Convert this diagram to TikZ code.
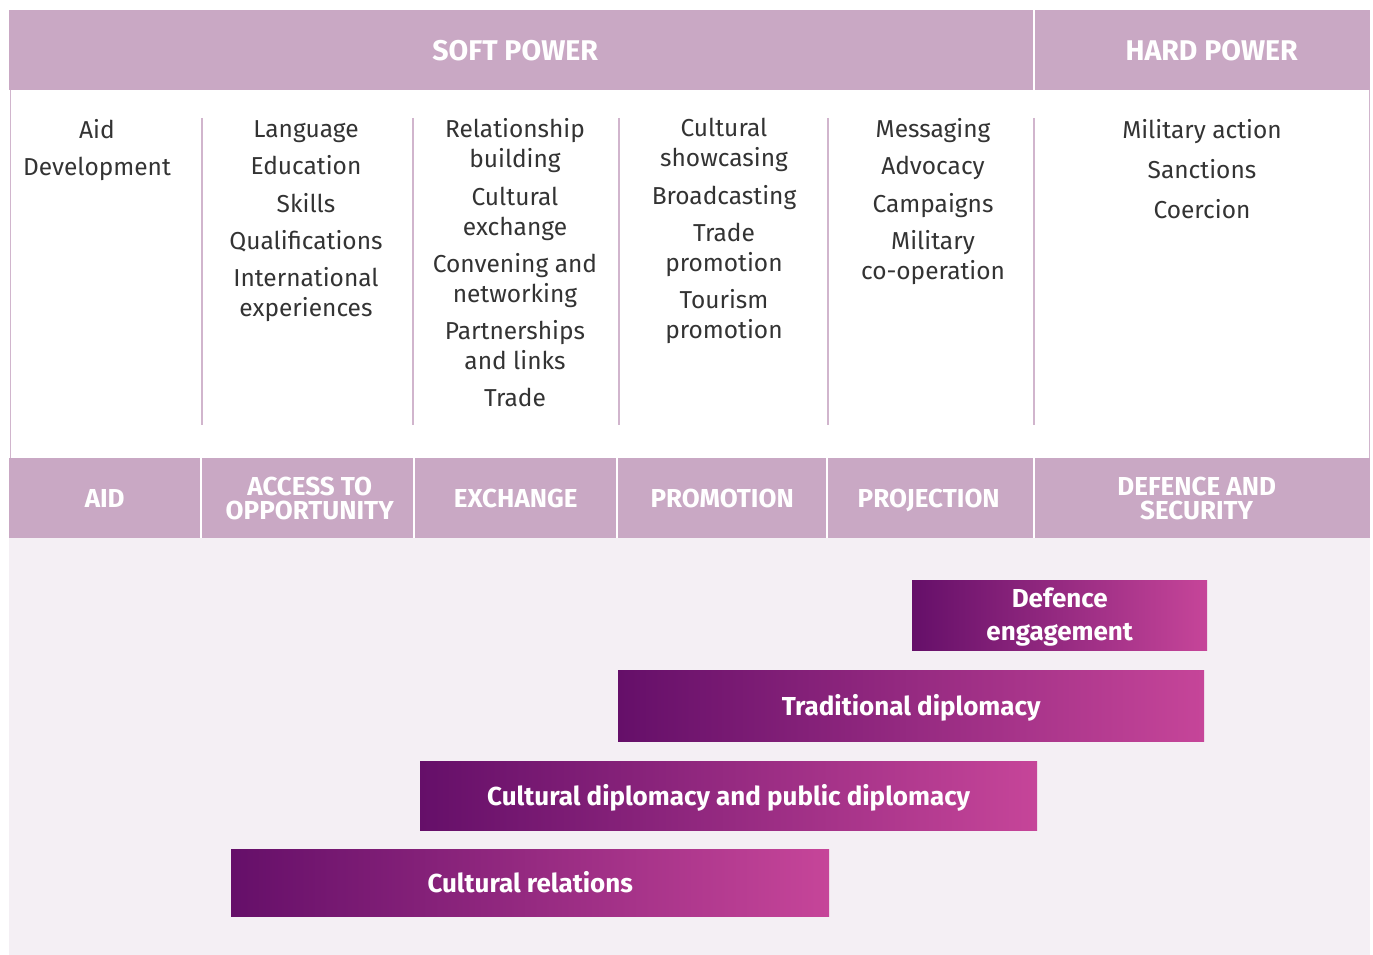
\documentclass[tikz,border=0pt]{standalone}
\usepackage{fontspec}
\setmainfont{Fira Sans}
\usetikzlibrary{positioning}
\definecolor{mauve}{HTML}{C9A8C4}
\definecolor{blush}{HTML}{F4EFF4}
\definecolor{plumL}{HTML}{650F69}
\definecolor{plumR}{HTML}{C64599}
\definecolor{ink}{HTML}{333333}
\tikzstyle{head} = [fill=mauve,text=white,font=\bfseries\fontsize{28.5}{28}\selectfont,inner sep=0pt,minimum height=80pt,anchor=north west]
\tikzstyle{cell} = [fill=mauve,text=white,font=\bfseries\fontsize{26}{24}\selectfont,align=center,inner sep=0pt,minimum height=80pt,anchor=north west]
\tikzstyle{item} = [text=ink,font=\fontsize{24.5}{30}\selectfont,align=center,inner sep=0pt,anchor=north]
\tikzstyle{bar} = [left color=plumL,right color=plumR,text=white,font=\bfseries\fontsize{26}{33}\selectfont,align=center,inner sep=0pt,anchor=north west,text depth=1.5pt]
\tikzstyle{sep} = [draw=mauve!85,line width=1.5pt]

\begin{document}
\begin{tikzpicture}[x=1pt,y=-1pt]
    \useasboundingbox (0,0) rectangle (1373,955);

% Top band: soft and hard power
    \node[head,minimum width=1024pt] (soft) at (9,10) {SOFT POWER\hspace*{12pt}};
    \node[head,minimum width=335pt] (hard) at (1035,10) {\hspace*{18pt}HARD POWER};

% White middle part with its thin border
    \draw[sep,line width=1pt] (10,90) -- (10,458);
    \draw[sep,line width=1pt] (1369,90) -- (1369,458);
    \foreach \x in {202,413,619,828,1034} {
        \draw[sep] (\x,118) -- (\x,425);
    }

    \node[item] (aid) at (97,119) {Aid\\[7pt]Development};
    \node[item] (access) at (306,120) {Language\\[7pt]Education\\[8pt]Skills\\[7pt]Qualifications\\[7pt]International\\experiences};
    \node[item] (exchange) at (515,118) {Relationship\\building\\[8pt]Cultural\\exchange\\[7pt]Convening and\\networking\\[7pt]Partnerships\\and links\\[7pt]Trade};
    \node[item] (promotion) at (724,118) {Cultural\\showcasing\\[8pt]Broadcasting\\[7pt]Trade\\promotion\\[7pt]Tourism\\promotion};
    \node[item] (projection) at (933,118) {Messaging\\[7pt]Advocacy\\[8pt]Campaigns\\[7pt]Military\\co-operation};
    \node[item] (defsec) at (1202,119) {Military action\\[10pt]Sanctions\\[10pt]Coercion};

% Bottom band of headings
    \node[cell,minimum width=191pt] (cAid) at (9,458) {AID};
    \node[cell,minimum width=211pt] (cAccess) at (202,458) {\hspace*{4pt}ACCESS TO\\\hspace*{4pt}OPPORTUNITY};
    \node[cell,minimum width=201pt] (cExchange) at (415,458) {EXCHANGE};
    \node[cell,minimum width=208pt] (cPromotion) at (618,458) {PROMOTION};
    \node[cell,minimum width=205pt,text depth=0pt] (cProjection) at (828,458) {PROJECTION\hspace*{4pt}};
    \node[cell,minimum width=335pt] (cDefence) at (1035,458) {DEFENCE AND\hspace*{12pt}\\SECURITY\hspace*{12pt}};

% Bars
    \fill[blush] (9,538) rectangle (1370,955);
    \node[bar,minimum width=295pt,minimum height=70pt] (defence) at (912,580) {Defence\\engagement};
    \node[bar,minimum width=586pt,minimum height=71pt] (trad) at (618,670) {Traditional diplomacy};
    \node[bar,minimum width=617pt,minimum height=69pt] (cdpd) at (420,761) {Cultural diplomacy and public diplomacy};
    \node[bar,minimum width=598pt,minimum height=67pt] (crel) at (231,849) {Cultural relations};

\end{tikzpicture}
\end{document}
